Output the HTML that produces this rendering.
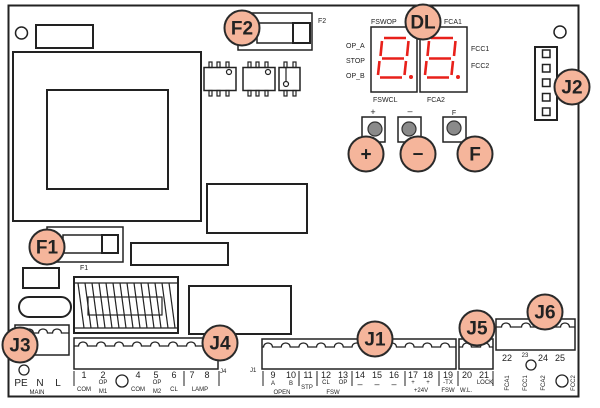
<!DOCTYPE html>
<html><head><meta charset="utf-8">
<style>
html,body{margin:0;padding:0;background:#fff;}
svg{display:block;}
text{font-family:"Liberation Sans",sans-serif;fill:#222;}
.s{font-size:7px;}
.xs{font-size:6px;}
.n{font-size:9px;}
.big{font-size:19px;font-weight:bold;text-anchor:middle;dominant-baseline:central;}
</style></head><body>
<svg width="600" height="408" viewBox="0 0 600 408" xmlns="http://www.w3.org/2000/svg">
<g fill="none" stroke="#222" stroke-width="2">
  <!-- board -->
  <rect x="8.5" y="5.5" width="570" height="391"/>
  <circle cx="21.5" cy="33" r="6" stroke-width="1.5"/>
  <rect x="36" y="25" width="57" height="23"/>
  <!-- transformer -->
  <rect x="13" y="52" width="188" height="169"/>
  <rect x="47" y="90" width="121" height="99"/>
  <!-- F2 fuse -->
  <rect x="238" y="13" width="74" height="37" stroke-width="1.5"/>
  <rect x="257" y="23" width="53" height="20" stroke-width="1.5"/>
  <rect x="293" y="23" width="17" height="20"/>
  <!-- chips -->
  <rect x="204" y="67.5" width="32" height="23" stroke-width="1.5"/>
  <rect x="243" y="67.5" width="32" height="23" stroke-width="1.5"/>
  <rect x="279" y="67.5" width="21" height="23" stroke-width="1.5"/>
  <g stroke-width="1.2">
    <rect x="209" y="62" width="3" height="5.5"/><rect x="217" y="62" width="3" height="5.5"/><rect x="226" y="62" width="3" height="5.5"/>
    <rect x="209" y="90.5" width="3" height="5.5"/><rect x="217" y="90.5" width="3" height="5.5"/><rect x="226" y="90.5" width="3" height="5.5"/>
    <rect x="248" y="62" width="3" height="5.5"/><rect x="256" y="62" width="3" height="5.5"/><rect x="265" y="62" width="3" height="5.5"/>
    <rect x="248" y="90.5" width="3" height="5.5"/><rect x="256" y="90.5" width="3" height="5.5"/><rect x="265" y="90.5" width="3" height="5.5"/>
    <rect x="284" y="62" width="3" height="5.5"/><rect x="293" y="62" width="3" height="5.5"/>
    <rect x="284" y="90.5" width="3" height="5.5"/><rect x="293" y="90.5" width="3" height="5.5"/>
    <circle cx="229" cy="72" r="2.5"/><circle cx="268" cy="72" r="2.5"/>
    <line x1="286" y1="67.5" x2="286" y2="81.5"/><circle cx="286" cy="84" r="2.5"/>
  </g>
  <!-- middle rects -->
  <rect x="207" y="184" width="100" height="49"/>
  <rect x="131" y="243" width="97" height="22"/>
  <!-- F1 fuse -->
  <rect x="47" y="227" width="76" height="35" stroke-width="1.5"/>
  <rect x="63" y="235" width="55" height="18" stroke-width="1.5"/>
  <rect x="102" y="235" width="16" height="18"/>
  <rect x="23" y="268" width="36" height="20"/>
  <rect x="19" y="297" width="52" height="20" rx="10"/>
  <!-- coil -->
  <rect x="74" y="277" width="104" height="56"/>
  <g stroke-width="1.2">
    <line x1="74" y1="283" x2="178" y2="283"/>
    <line x1="74" y1="328" x2="178" y2="328"/>
    <rect x="88" y="297" width="74" height="18"/>
    <line x1="78" y1="283" x2="84" y2="328"/><line x1="85" y1="283" x2="91" y2="328"/>
    <line x1="92" y1="283" x2="98" y2="328"/><line x1="99" y1="283" x2="105" y2="328"/>
    <line x1="106" y1="283" x2="112" y2="328"/><line x1="113" y1="283" x2="119" y2="328"/>
    <line x1="120" y1="283" x2="126" y2="328"/><line x1="127" y1="283" x2="133" y2="328"/>
    <line x1="134" y1="283" x2="140" y2="328"/><line x1="141" y1="283" x2="147" y2="328"/>
    <line x1="148" y1="283" x2="154" y2="328"/><line x1="155" y1="283" x2="161" y2="328"/>
    <line x1="162" y1="283" x2="168" y2="328"/><line x1="169" y1="283" x2="175" y2="328"/>
  </g>
  <rect x="189" y="286" width="102" height="48"/>
  <!-- connectors -->
  <rect x="15" y="325" width="54" height="30" stroke-width="1.5"/>
  <rect x="74" y="338" width="144" height="31" stroke-width="1.5"/>
  <rect x="262" y="339" width="194" height="30" stroke-width="1.5"/>
  <rect x="459" y="339" width="34" height="30" stroke-width="1.5"/>
  <rect x="496" y="319" width="79" height="31" stroke-width="1.5"/>
  <g stroke-width="1.3">
    <path d="M15 333 L24.5 333 A4.5 4 0 0 1 33.5 333 L38.5 333 A4.5 4 0 0 1 47.5 333 L52.5 333 A4.5 4 0 0 1 61.5 333 L69 333"/>
    <path d="M74 346 L78.5 346 A4.5 4 0 0 1 87.5 346 L96.5 346 A4.5 4 0 0 1 105.5 346 L114.5 346 A4.5 4 0 0 1 123.5 346 L132.5 346 A4.5 4 0 0 1 141.5 346 L150.5 346 A4.5 4 0 0 1 159.5 346 L168.5 346 A4.5 4 0 0 1 177.5 346 L186.5 346 A4.5 4 0 0 1 195.5 346 L204.5 346 A4.5 4 0 0 1 213.5 346 L218 346"/>
    <path d="M262 347 L263.5 347 A4.5 4 0 0 1 272.5 347 L281.2 347 A4.5 4 0 0 1 290.2 347 L298.9 347 A4.5 4 0 0 1 307.9 347 L316.5 347 A4.5 4 0 0 1 325.5 347 L334.3 347 A4.5 4 0 0 1 343.3 347 L352 347 A4.5 4 0 0 1 361 347 L369.5 347 A4.5 4 0 0 1 378.5 347 L387.5 347 A4.5 4 0 0 1 396.5 347 L405.1 347 A4.5 4 0 0 1 414.1 347 L422.8 347 A4.5 4 0 0 1 431.8 347 L440.5 347 A4.5 4 0 0 1 449.5 347 L456 347"/>
    <path d="M459 347 L462.5 347 A4.5 4 0 0 1 471.5 347 L480.5 347 A4.5 4 0 0 1 489.5 347 L493 347"/>
    <path d="M496 327 L501.5 327 A4.5 4 0 0 1 510.5 327 L521.5 327 A4.5 4 0 0 1 530.5 327 L541.5 327 A4.5 4 0 0 1 550.5 327 L560.5 327 A4.5 4 0 0 1 569.5 327 L575 327"/>
  </g>
  <!-- J2 -->
  <rect x="535" y="47" width="22" height="73"/>
  <g stroke-width="1.5">
    <rect x="542.5" y="50" width="7.5" height="7.5"/><rect x="542.5" y="64.5" width="7.5" height="7.5"/>
    <rect x="542.5" y="79" width="7.5" height="7.5"/><rect x="542.5" y="93.5" width="7.5" height="7.5"/>
    <rect x="542.5" y="108" width="7.5" height="7.5"/>
  </g>
  <circle cx="560" cy="32" r="6" stroke-width="1.5"/>
  <!-- display -->
  <rect x="371" y="27" width="46" height="65" stroke-width="1.5"/>
  <rect x="420" y="27" width="47" height="65" stroke-width="1.5"/>
  <!-- buttons -->
  <rect x="362" y="117" width="23" height="25" stroke-width="1.5"/>
  <rect x="398" y="117" width="23" height="25" stroke-width="1.5"/>
  <rect x="443" y="117" width="23" height="25" stroke-width="1.5"/>
  <!-- bottom small circles -->
  <circle cx="24" cy="370" r="5" stroke-width="1.3"/>
  <circle cx="122" cy="381" r="6" stroke-width="1.3"/>
  <circle cx="531" cy="365" r="5" stroke-width="1.3"/>
  <circle cx="562" cy="381" r="6" stroke-width="1.3"/>
  <!-- separators -->
  <g stroke-width="1">
    <line x1="74" y1="371" x2="74" y2="386"/><line x1="184" y1="371" x2="184" y2="386"/>
    <line x1="219" y1="371" x2="219" y2="386"/><line x1="263" y1="371" x2="263" y2="386"/>
    <line x1="299" y1="371" x2="299" y2="386"/><line x1="317" y1="371" x2="317" y2="386"/>
    <line x1="352" y1="371" x2="352" y2="386"/><line x1="405" y1="371" x2="405" y2="386"/>
    <line x1="439" y1="371" x2="439" y2="386"/><line x1="458" y1="371" x2="458" y2="386"/>
    <line x1="493" y1="371" x2="493" y2="386"/>
  </g>
</g>
<!-- button knobs -->
<g fill="#8a8a8a" stroke="#333" stroke-width="1.2">
  <circle cx="375" cy="129" r="7"/><circle cx="409" cy="129" r="7"/><circle cx="454" cy="128" r="7"/>
</g>
<!-- 7 segment digits -->
<g stroke="#e8201a" stroke-width="2.6" stroke-linecap="butt" fill="none">
  <g id="dg">
    <line x1="384" y1="38" x2="406" y2="38"/>
    <line x1="382" y1="41" x2="380.5" y2="56"/>
    <line x1="408.5" y1="41" x2="407" y2="56"/>
    <line x1="382" y1="58.5" x2="404" y2="58.5"/>
    <line x1="379.5" y1="61" x2="378" y2="75"/>
    <line x1="406" y1="61" x2="404.5" y2="75"/>
    <line x1="380" y1="77.5" x2="402" y2="77.5"/>
  </g>
  <g transform="translate(47,0)">
    <line x1="384" y1="38" x2="406" y2="38"/>
    <line x1="382" y1="41" x2="380.5" y2="56"/>
    <line x1="408.5" y1="41" x2="407" y2="56"/>
    <line x1="382" y1="58.5" x2="404" y2="58.5"/>
    <line x1="379.5" y1="61" x2="378" y2="75"/>
    <line x1="406" y1="61" x2="404.5" y2="75"/>
    <line x1="380" y1="77.5" x2="402" y2="77.5"/>
  </g>
</g>
<circle cx="411" cy="77" r="2" fill="#e8201a"/>
<circle cx="458" cy="77" r="2" fill="#e8201a"/>
<!-- display labels -->
<text class="s" x="371" y="24">FSWOP</text>
<text class="s" x="444" y="24">FCA1</text>
<text class="s" x="346" y="48">OP_A</text>
<text class="s" x="346" y="63">STOP</text>
<text class="s" x="346" y="78">OP_B</text>
<text class="s" x="471" y="51">FCC1</text>
<text class="s" x="471" y="68">FCC2</text>
<text class="s" x="373" y="102">FSWCL</text>
<text class="s" x="427" y="102">FCA2</text>
<text class="n" x="373" y="115" text-anchor="middle">+</text>
<text class="n" x="410" y="114" text-anchor="middle">–</text>
<text class="s" x="454" y="115" text-anchor="middle">F</text>
<text class="s" x="318" y="23">F2</text>
<text class="s" x="80" y="270">F1</text>
<text class="xs" x="220" y="373">J4</text>
<text class="xs" x="250" y="372">J1</text>
<!-- bottom labels -->
<text style="font-size:10px" x="21" y="386" text-anchor="middle">PE</text>
<text style="font-size:10px" x="40" y="386" text-anchor="middle">N</text>
<text style="font-size:10px" x="58" y="386" text-anchor="middle">L</text>
<text class="xs" x="37" y="394" text-anchor="middle">MAIN</text>
<g class="n" text-anchor="middle">
  <text class="n" x="84" y="378" text-anchor="middle">1</text>
  <text class="n" x="103" y="378" text-anchor="middle">2</text>
  <text class="n" x="138" y="378" text-anchor="middle">4</text>
  <text class="n" x="156" y="378" text-anchor="middle">5</text>
  <text class="n" x="174" y="378" text-anchor="middle">6</text>
  <text class="n" x="192" y="378" text-anchor="middle">7</text>
  <text class="n" x="207" y="378" text-anchor="middle">8</text>
  <text class="n" x="273" y="378" text-anchor="middle">9</text>
  <text class="n" x="291" y="378" text-anchor="middle">10</text>
  <text class="n" x="308" y="378" text-anchor="middle">11</text>
  <text class="n" x="326" y="378" text-anchor="middle">12</text>
  <text class="n" x="343" y="378" text-anchor="middle">13</text>
  <text class="n" x="360" y="378" text-anchor="middle">14</text>
  <text class="n" x="377" y="378" text-anchor="middle">15</text>
  <text class="n" x="394" y="378" text-anchor="middle">16</text>
  <text class="n" x="413" y="378" text-anchor="middle">17</text>
  <text class="n" x="428" y="378" text-anchor="middle">18</text>
  <text class="n" x="448" y="378" text-anchor="middle">19</text>
  <text class="n" x="467" y="378" text-anchor="middle">20</text>
  <text class="n" x="484" y="378" text-anchor="middle">21</text>
  <text class="n" x="507" y="361" text-anchor="middle">22</text>
  <text class="xs" x="525" y="357" text-anchor="middle">23</text>
  <text class="n" x="543" y="361" text-anchor="middle">24</text>
  <text class="n" x="560" y="361" text-anchor="middle">25</text>
</g>
<g text-anchor="middle">
  <text class="xs" x="84" y="391" text-anchor="middle">COM</text>
  <text class="xs" x="103" y="384" text-anchor="middle">OP</text>
  <text class="xs" x="103" y="393" text-anchor="middle">M1</text>
  <text class="xs" x="138" y="391" text-anchor="middle">COM</text>
  <text class="xs" x="157" y="384" text-anchor="middle">OP</text>
  <text class="xs" x="157" y="393" text-anchor="middle">M2</text>
  <text class="xs" x="174" y="391" text-anchor="middle">CL</text>
  <text class="xs" x="200" y="391" text-anchor="middle">LAMP</text>
  <text class="xs" x="273" y="385" text-anchor="middle">A</text>
  <text class="xs" x="291" y="385" text-anchor="middle">B</text>
  <text class="xs" x="282" y="394" text-anchor="middle">OPEN</text>
  <text class="xs" x="307" y="389" text-anchor="middle">STP</text>
  <text class="xs" x="326" y="384" text-anchor="middle">CL</text>
  <text class="xs" x="343" y="384" text-anchor="middle">OP</text>
  <text class="xs" x="333" y="394" text-anchor="middle">FSW</text>
  <text class="n" x="360" y="387" text-anchor="middle">–</text>
  <text class="n" x="377" y="387" text-anchor="middle">–</text>
  <text class="n" x="394" y="387" text-anchor="middle">–</text>
  <text class="xs" x="413" y="384" text-anchor="middle">+</text>
  <text class="xs" x="428" y="384" text-anchor="middle">+</text>
  <text class="xs" x="421" y="392" text-anchor="middle">+24V</text>
  <text class="xs" x="448" y="384" text-anchor="middle">-TX</text>
  <text class="xs" x="448" y="392" text-anchor="middle">FSW</text>
  <text class="xs" x="485" y="384" text-anchor="middle">LOCK</text>
  <text class="xs" x="466" y="392" text-anchor="middle">W.L.</text>
</g>
<g class="xs" text-anchor="middle">
  <text class="xs" transform="translate(509,383) rotate(-90)" text-anchor="middle">FCA1</text>
  <text class="xs" transform="translate(527,383) rotate(-90)" text-anchor="middle">FCC1</text>
  <text class="xs" transform="translate(545,383) rotate(-90)" text-anchor="middle">FCA2</text>
  <text class="xs" transform="translate(575,383) rotate(-90)" text-anchor="middle">FCC2</text>
</g>
<!-- callout circles -->
<g fill="#f5b59b" stroke="#2a2a2a" stroke-width="2">
  <circle cx="242" cy="28" r="17.5"/>
  <circle cx="423" cy="22" r="17.5"/>
  <circle cx="572" cy="87" r="17.5"/>
  <circle cx="366" cy="154" r="17.5"/>
  <circle cx="418" cy="154" r="17.5"/>
  <circle cx="475" cy="154" r="17.5"/>
  <circle cx="47" cy="247" r="17.5"/>
  <circle cx="20" cy="345" r="17.5"/>
  <circle cx="220" cy="343" r="17.5"/>
  <circle cx="375" cy="339" r="17.5"/>
  <circle cx="477" cy="328" r="17.5"/>
  <circle cx="545" cy="312" r="17.5"/>
</g>
<g>
  <text class="big" x="242" y="29">F2</text>
  <text class="big" x="423" y="23">DL</text>
  <text class="big" x="572" y="88">J2</text>
  <text class="big" x="366" y="155">+</text>
  <text class="big" x="418" y="154">–</text>
  <text class="big" x="475" y="155">F</text>
  <text class="big" x="47" y="248">F1</text>
  <text class="big" x="20" y="346">J3</text>
  <text class="big" x="220" y="344">J4</text>
  <text class="big" x="375" y="340">J1</text>
  <text class="big" x="477" y="329">J5</text>
  <text class="big" x="545" y="313">J6</text>
</g>
</svg>
</body></html>
